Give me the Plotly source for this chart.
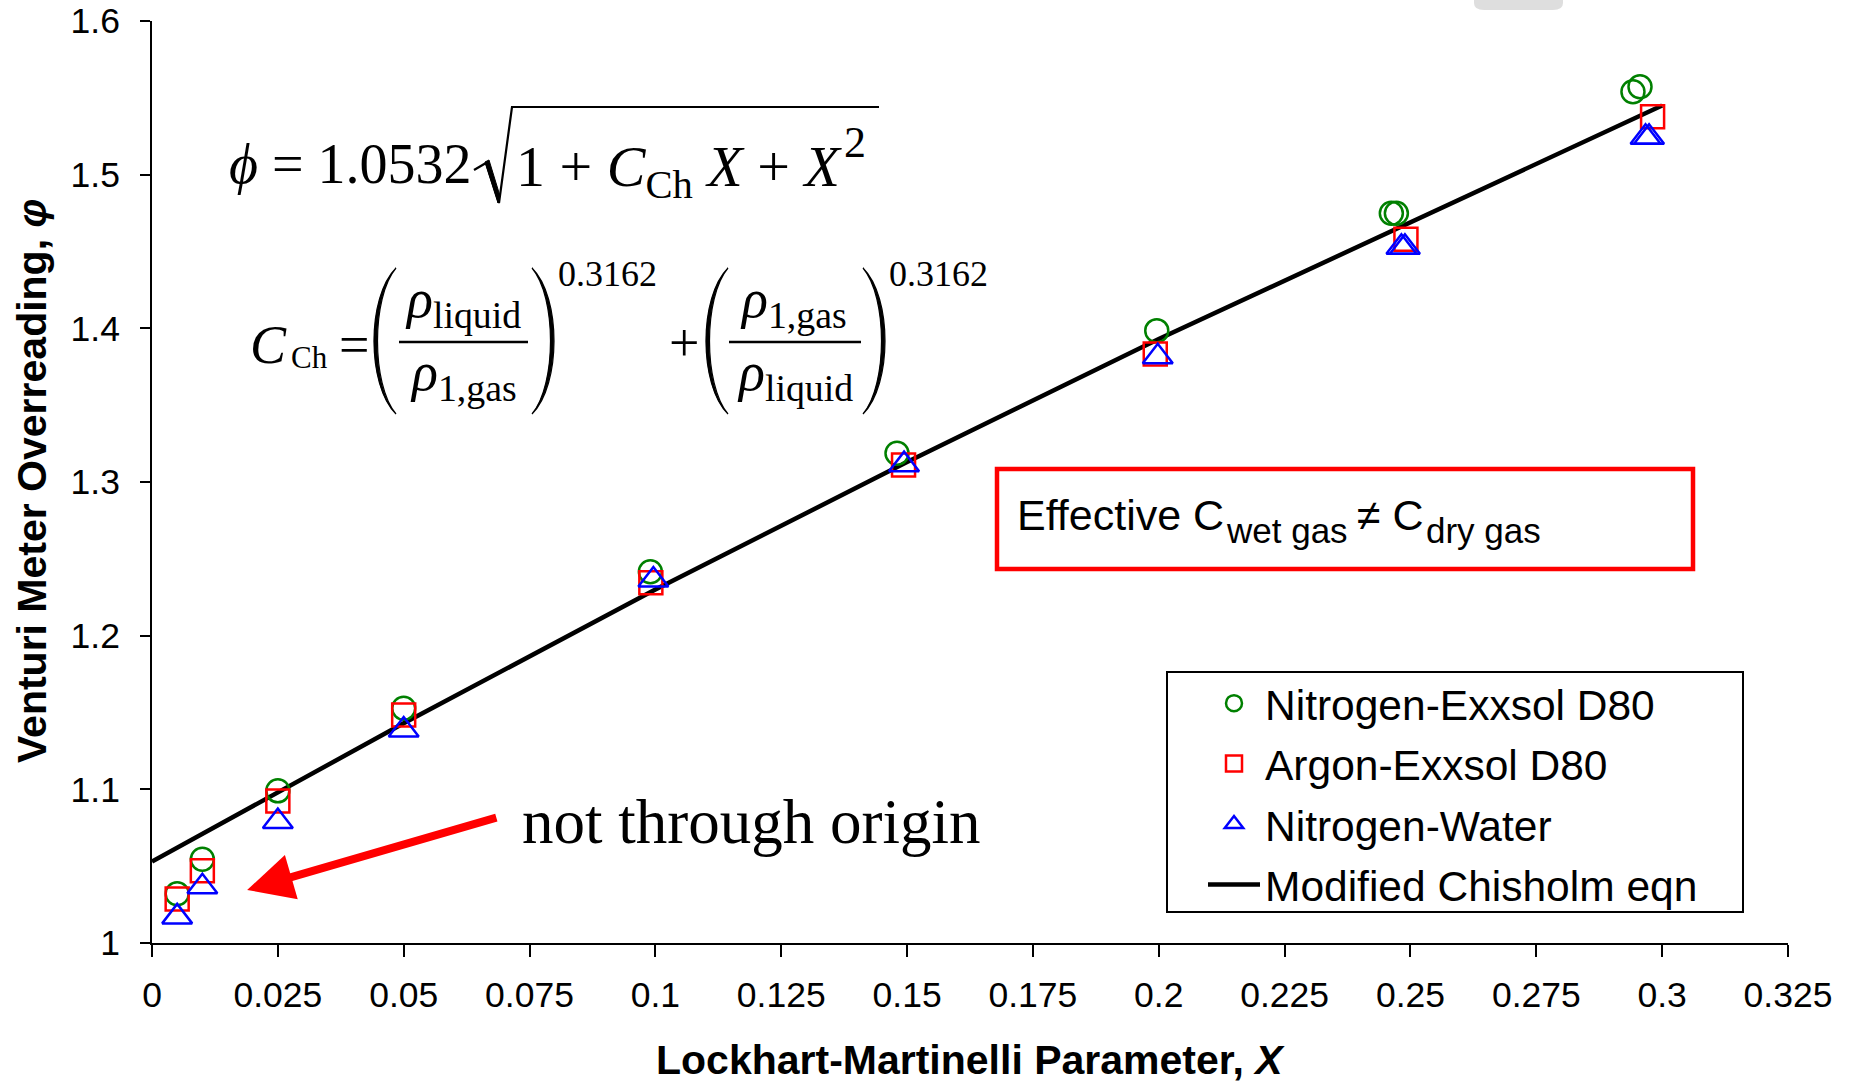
import plotly.graph_objects as go

# ---- measured data ------------------------------------------------------
# Nitrogen / Exxsol D80
n2_exx_x = [0.005, 0.01, 0.025, 0.05, 0.099, 0.148, 0.1996, 0.2462, 0.2472, 0.2942, 0.2956]
n2_exx_phi = [1.032, 1.0545, 1.099, 1.1527, 1.2416, 1.3187, 1.3985, 1.4749, 1.4749, 1.554, 1.5572]

# Argon / Exxsol D80
ar_exx_x = [0.005, 0.01, 0.025, 0.05, 0.0991, 0.1493, 0.1993, 0.2491, 0.2981]
ar_exx_phi = [1.0286, 1.047, 1.0924, 1.1484, 1.2345, 1.311, 1.3833, 1.4579, 1.5377]

# Nitrogen / Water
n2_water_x = [0.005, 0.01, 0.025, 0.05, 0.0996, 0.1494, 0.1998, 0.2482, 0.2489, 0.2967, 0.2974]
n2_water_phi = [1.017, 1.0366, 1.079, 1.1386, 1.2362, 1.3113, 1.3815, 1.4527, 1.4527, 1.5243, 1.5243]

# Modified Chisholm correlation
chisholm_x = [0.0, 0.05, 0.1, 0.15, 0.2, 0.25, 0.3]
chisholm_phi = [1.053, 1.143, 1.230, 1.313, 1.393, 1.469, 1.545]

# Axis ticks
x_ticks = [0, 0.025, 0.05, 0.075, 0.1, 0.125, 0.15, 0.175, 0.2, 0.225, 0.25, 0.275, 0.3, 0.325]
x_tick_text = ["0", "0.025", "0.05", "0.075", "0.1", "0.125", "0.15", "0.175", "0.2",
               "0.225", "0.25", "0.275", "0.3", "0.325"]
y_ticks = [1.0, 1.1, 1.2, 1.3, 1.4, 1.5, 1.6]
y_tick_text = ["1", "1.1", "1.2", "1.3", "1.4", "1.5", "1.6"]

# ---- page geometry -------------------------------------------------------
FIG_W, FIG_H = 1857, 1083
ML, MR, MT, MB = 152, 69, 21, 140
PW = FIG_W - ML - MR
PH = FIG_H - MT - MB

SANS = "Liberation Sans, Arial, sans-serif"
SERIF = "Liberation Serif, Times New Roman, serif"


def px(x):
    """page pixel x -> paper fraction"""
    return (x - ML) / PW


def py(y):
    """page pixel y (from top) -> paper fraction"""
    return (FIG_H - MB - y) / PH


def mid_serif(baseline, size):
    return baseline - 0.3375 * size


def mid_sans(baseline, size):
    return baseline - 0.3465 * size


fig = go.Figure()

fig.add_trace(go.Scatter(
    x=chisholm_x, y=chisholm_phi, mode="lines", name="Modified Chisholm eqn",
    line=dict(color="black", width=4.5), legendrank=4, legendgroup="g4"))

fig.add_trace(go.Scatter(
    x=n2_exx_x, y=n2_exx_phi, mode="markers", name="Nitrogen-Exxsol D80",
    marker=dict(symbol="circle-open", size=23, color="#008000",
                line=dict(color="#008000", width=2.5)),
    legendrank=1, legendgroup="g1"))

fig.add_trace(go.Scatter(
    x=ar_exx_x, y=ar_exx_phi, mode="markers", name="Argon-Exxsol D80",
    marker=dict(symbol="square-open", size=23, color="#FF0000",
                line=dict(color="#FF0000", width=2.5)),
    legendrank=2, legendgroup="g2"))

fig.add_trace(go.Scatter(
    x=n2_water_x, y=n2_water_phi, mode="markers", name="Nitrogen-Water",
    marker=dict(symbol="triangle-up-open", size=26, color="#0000FF",
                line=dict(color="#0000FF", width=2.5)),
    legendrank=3, legendgroup="g3"))

shapes = []
annotations = []


def text(s, x, y, size, family=SERIF, xanchor="left", yanchor="middle", color="black"):
    annotations.append(dict(
        text=s, x=px(x), y=py(y), xref="paper", yref="paper",
        xanchor=xanchor, yanchor=yanchor, showarrow=False,
        font=dict(size=size, family=family, color=color), borderpad=0))


def seg(x0, y0, x1, y1, width=2.5, color="black"):
    shapes.append(dict(type="line", xref="paper", yref="paper",
                       x0=px(x0), y0=py(y0), x1=px(x1), y1=py(y1),
                       line=dict(color=color, width=width)))


def path(pts_cmds, fill=None, width=2.0, color="black"):
    shapes.append(dict(type="path", xref="paper", yref="paper", path=pts_cmds,
                       fillcolor=fill if fill else "rgba(0,0,0,0)",
                       line=dict(color=color, width=width)))


def P(x, y):
    return f"{px(x):.6f},{py(y):.6f}"


def paren(x_edge, x_bulge, top, bottom, thick=3.5):
    """Tall typeset parenthesis; x_edge = tips, x_bulge = extreme of the bowl."""
    h = bottom - top
    d = 1 if x_bulge > x_edge else -1
    c_out = x_edge + (x_bulge - x_edge) / 0.75
    c_in = x_edge + (x_bulge - d * thick - x_edge) / 0.75
    p = (f"M{P(x_edge, top)} C{P(c_out, top + 0.2 * h)} {P(c_out, bottom - 0.2 * h)} {P(x_edge, bottom)} "
         f"C{P(c_in, bottom - 0.2 * h)} {P(c_in, top + 0.2 * h)} {P(x_edge, top)} Z")
    path(p, fill="black", width=1.2)


# ---- top equation: phi = 1.0532 sqrt(1 + C_Ch X + X^2) ---------------------
E1 = 56
text("<i>ϕ</i> = 1.0532", 473, mid_serif(183, E1), E1, xanchor="right")
path(f"M{P(474, 170)} L{P(486, 163)} L{P(499, 203)} L{P(512, 107)} L{P(879, 107)}", width=2.2)
path(f"M{P(485, 162)} L{P(489, 160)} L{P(500, 196)} L{P(498, 203)} Z", fill="black", width=1)
text("1 + <i>C</i><sub>Ch</sub> <i>X</i> + <i>X</i>", 515, 170, 58)
text("2", 843, 142, 44)

# ---- C_Ch definition --------------------------------------------------------
E2 = 54
text("<i>C</i>", 249, mid_serif(363, E2), E2)
text("Ch", 290, mid_serif(368, 31), 31)
text("=", 338, mid_serif(363, E2), E2)

# first fraction
paren(396, 374, 268, 414)
text("<i>ρ</i><sub>liquid</sub>", 463, 337, E2, xanchor="center", yanchor="bottom")
seg(399, 342, 528, 342, width=2.5)
text("<i>ρ</i><sub>1,gas</sub>", 463, 341, E2, xanchor="center", yanchor="top")
paren(532, 554, 268, 414)
text("0.3162", 557, 274, 36)

text("+", 668, mid_serif(361, E2), E2)

# second fraction
paren(728, 706, 268, 414)
text("<i>ρ</i><sub>1,gas</sub>", 793, 337, E2, xanchor="center", yanchor="bottom")
seg(729, 342, 861, 342, width=2.5)
text("<i>ρ</i><sub>liquid</sub>", 795, 341, E2, xanchor="center", yanchor="top")
paren(863, 885, 268, 414)
text("0.3162", 888, 274, 36)

# ---- callout box -----------------------------------------------------------
shapes.append(dict(type="rect", xref="paper", yref="paper",
                   x0=px(997), y0=py(469), x1=px(1693), y1=py(569),
                   line=dict(color="#FF0000", width=4.5), fillcolor="white", layer="below"))
B1, B2 = 43, 35
text("Effective C", 1016, mid_sans(530, B1), B1, family=SANS)
text("wet gas", 1225, mid_sans(543, B2), B2, family=SANS)
text("≠ C", 1356, mid_sans(530, B1), B1, family=SANS)
text("dry gas", 1425, mid_sans(543, B2), B2, family=SANS)

# ---- "not through origin" arrow ---------------------------------------------
text("not through origin", 521, mid_serif(843, 63), 63)
annotations.append(dict(
    x=0.0189, y=1.0345, ax=0.0687, ay=1.0819, xref="x", yref="y", axref="x", ayref="y",
    text="", showarrow=True, arrowhead=2, arrowsize=1.15, arrowwidth=8, arrowcolor="#FF0000"))

# ---- legend frame ----------------------------------------------------------
shapes.append(dict(type="rect", xref="paper", yref="paper",
                   x0=px(1167), y0=py(672), x1=px(1743), y1=py(912),
                   line=dict(color="black", width=2), fillcolor="white", layer="below"))

# soft grey tab at the top edge
shapes.append(dict(type="path", xref="paper", yref="paper",
                   path=f"M{P(1474, -2)} L{P(1474, 3)} Q{P(1474, 10)} {P(1484, 10)} L{P(1553, 10)} "
                        f"Q{P(1563, 10)} {P(1563, 3)} L{P(1563, -2)} Z",
                   fillcolor="#d6d6d6", line=dict(width=0), opacity=0.8))

# ---- axis titles -----------------------------------------------------------
text("<b>Lockhart-Martinelli Parameter, <i>X</i></b>", 970, 1060, 41, family=SANS, xanchor="center")
annotations.append(dict(
    text="<b>Venturi Meter Overreading, <i>φ</i></b>", x=px(32), y=py(481),
    xref="paper", yref="paper", xanchor="center", yanchor="middle", textangle=-90,
    showarrow=False, font=dict(size=41, family=SANS, color="black")))

axis_common = dict(showline=True, linecolor="black", linewidth=2, ticks="outside",
                   tickcolor="black", tickwidth=1.5, showgrid=False, zeroline=False,
                   tickfont=dict(size=35.5, family=SANS, color="black"), automargin=False)

fig.update_layout(
    width=FIG_W, height=FIG_H,
    margin=dict(l=ML, r=MR, t=MT, b=MB, pad=0),
    paper_bgcolor="white", plot_bgcolor="white",
    xaxis=dict(range=[0, 0.325], tickvals=x_ticks, ticktext=x_tick_text, ticklen=12,
               ticklabelstandoff=7, **axis_common),
    yaxis=dict(range=[1.0, 1.6], tickvals=y_ticks, ticktext=y_tick_text, ticklen=10,
               ticklabelstandoff=13, **axis_common),
    legend=dict(x=px(1203), y=py(669), xanchor="left", yanchor="top",
                bgcolor="rgba(0,0,0,0)", borderwidth=0, itemwidth=52,
                font=dict(size=42.5, family=SANS, color="black"),
                tracegroupgap=2.2, traceorder="grouped"),
    shapes=shapes, annotations=annotations,
)

fig.write_html("out.html")
